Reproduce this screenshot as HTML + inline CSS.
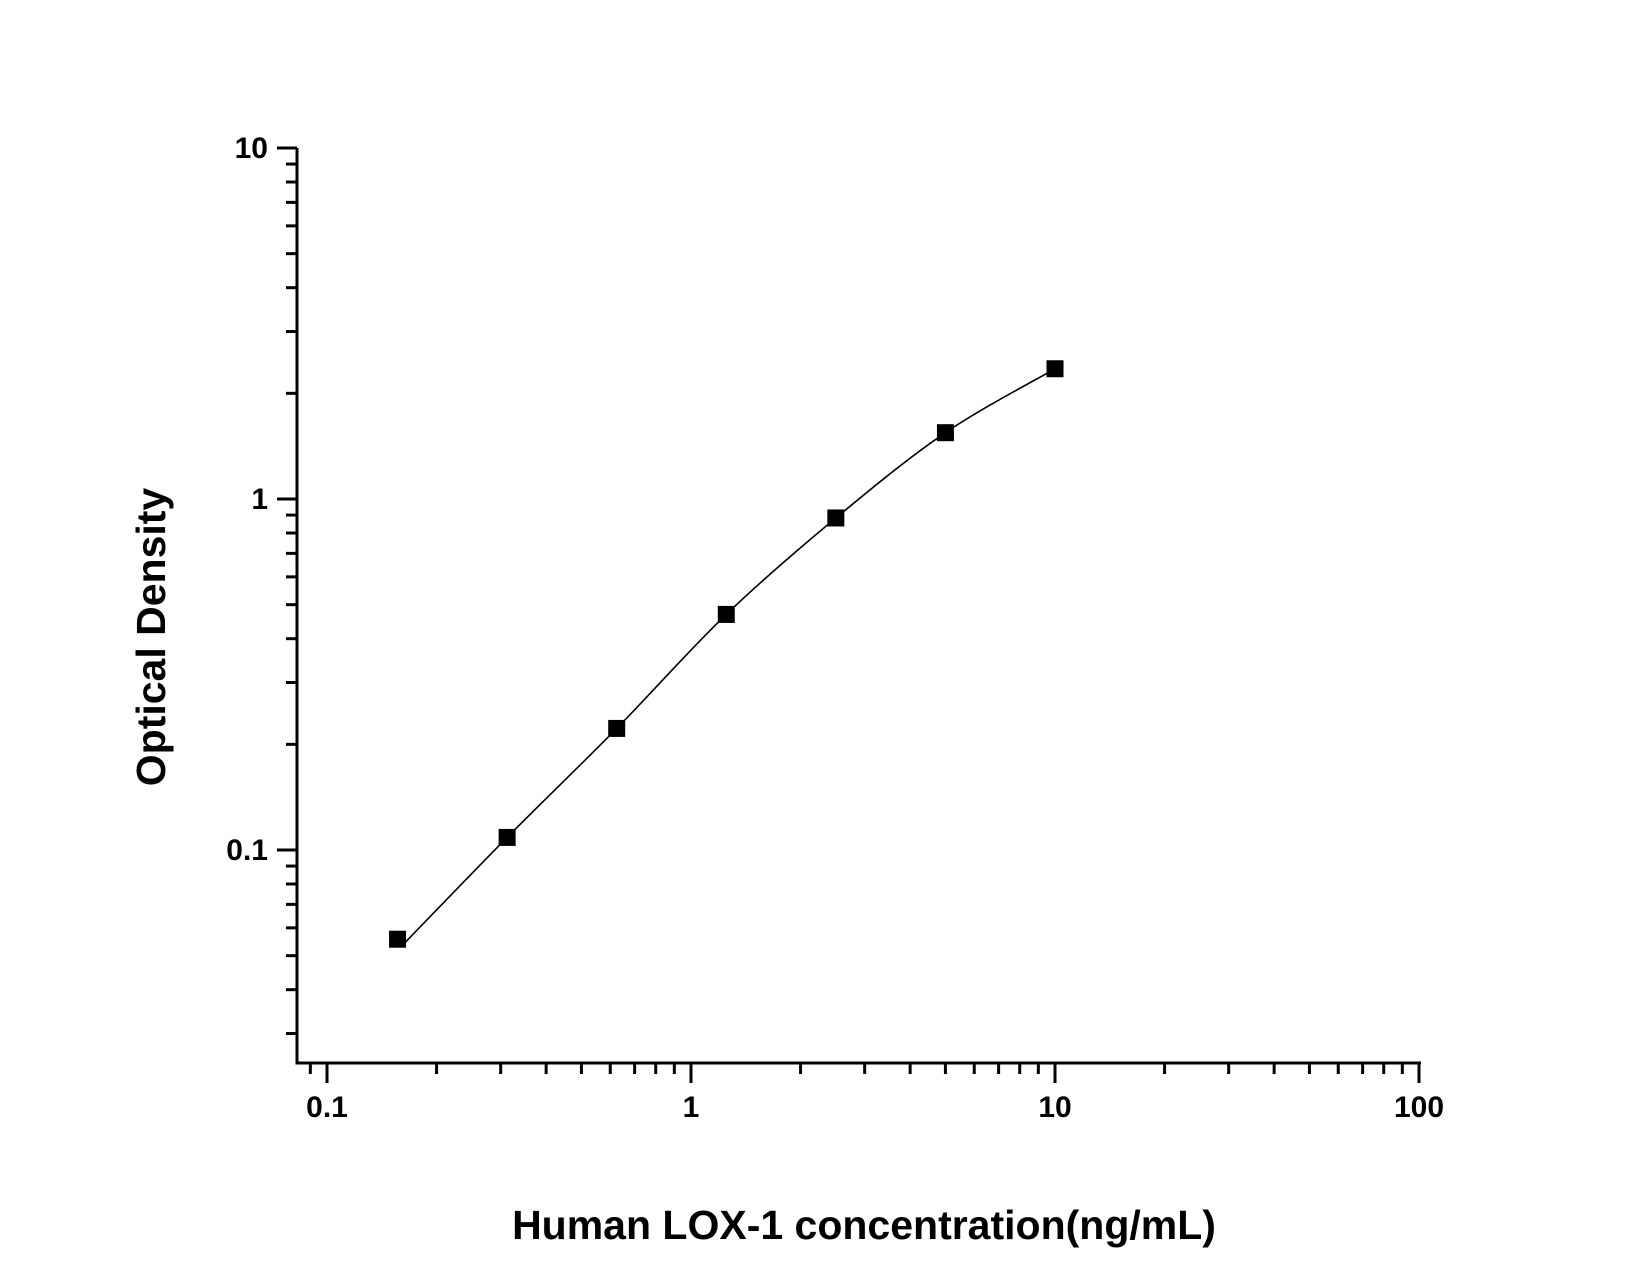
<!DOCTYPE html>
<html><head><meta charset="utf-8"><style>
html,body{margin:0;padding:0;background:#fff;}
svg{display:block;font-family:"Liberation Sans",Arial,sans-serif;}
</style></head><body>
<svg id="s" width="1650" height="1275" viewBox="0 0 1650 1275" xmlns="http://www.w3.org/2000/svg">
<text x="864" y="1239" font-size="41" font-weight="bold" text-anchor="middle">Human LOX-1 concentration(ng/mL)</text>
<text transform="translate(165,637) rotate(-90)" font-size="41" font-weight="bold" text-anchor="middle">Optical Density</text>
</svg>
<script>
(function(){
var s=document.getElementById('s'),NS='http://www.w3.org/2000/svg';
function X(v){return 691+364*Math.log10(v);}
function Y(v){return 499-351*Math.log10(v);}
function el(t,a,txt){var e=document.createElementNS(NS,t);for(var k in a)e.setAttribute(k,a[k]);if(txt)e.textContent=txt;s.appendChild(e);return e;}
var ax=297,ay=1063,ytop=148,right=1421;
el('path',{d:'M'+ax+' '+ytop+' L'+ax+' '+ay+' L'+right+' '+ay,fill:'none',stroke:'#000','stroke-width':3});
[0.1,1,10].forEach(function(v){var y=Y(v);el('line',{x1:ax-20,x2:ax,y1:y,y2:y,stroke:'#000','stroke-width':3});
el('text',{x:268,y:y+10,'font-size':30,'font-weight':'bold','text-anchor':'end'},String(v));});
[0.01,0.1,1].forEach(function(d){for(var i=2;i<=9;i++){var v=d*i,y=Y(v);if(y>ay-2||y<ytop)continue;
el('line',{x1:ax-11,x2:ax,y1:y,y2:y,stroke:'#000','stroke-width':3});}});
[0.1,1,10,100].forEach(function(v){var x=X(v);el('line',{x1:x,x2:x,y1:ay,y2:ay+20,stroke:'#000','stroke-width':3});
el('text',{x:x,y:1117,'font-size':30,'font-weight':'bold','text-anchor':'middle'},String(v));});
[0.01,0.1,1,10].forEach(function(d){for(var i=2;i<=9;i++){var v=d*i,x=X(v);if(x<ax+2||x>right)continue;
el('line',{x1:x,x2:x,y1:ay,y2:ay+11,stroke:'#000','stroke-width':3});}});
var xs=[0.15625,0.3125,0.625,1.25,2.5,5,10],ys=[0.0557,0.1086,0.222,0.469,0.883,1.545,2.35];
var P=xs.map(function(x,i){return [X(x),Y(ys[i])];});
var start=[P[0][0]+3,P[0][1]+8];
var pts=[start].concat(P.slice(1));
var d='M'+pts[0][0]+' '+pts[0][1];
for(var i=0;i<pts.length-1;i++){var p0=pts[Math.max(0,i-1)],p1=pts[i],p2=pts[i+1],p3=pts[Math.min(pts.length-1,i+2)];
d+=' C'+(p1[0]+(p2[0]-p0[0])/6)+' '+(p1[1]+(p2[1]-p0[1])/6)+' '+(p2[0]-(p3[0]-p1[0])/6)+' '+(p2[1]-(p3[1]-p1[1])/6)+' '+p2[0]+' '+p2[1];}
el('path',{d:d,fill:'none',stroke:'#000','stroke-width':1.6});
P.forEach(function(p){el('rect',{x:p[0]-8.5,y:p[1]-8.5,width:17,height:17,fill:'#000'});});
})();
</script>
</body></html>
